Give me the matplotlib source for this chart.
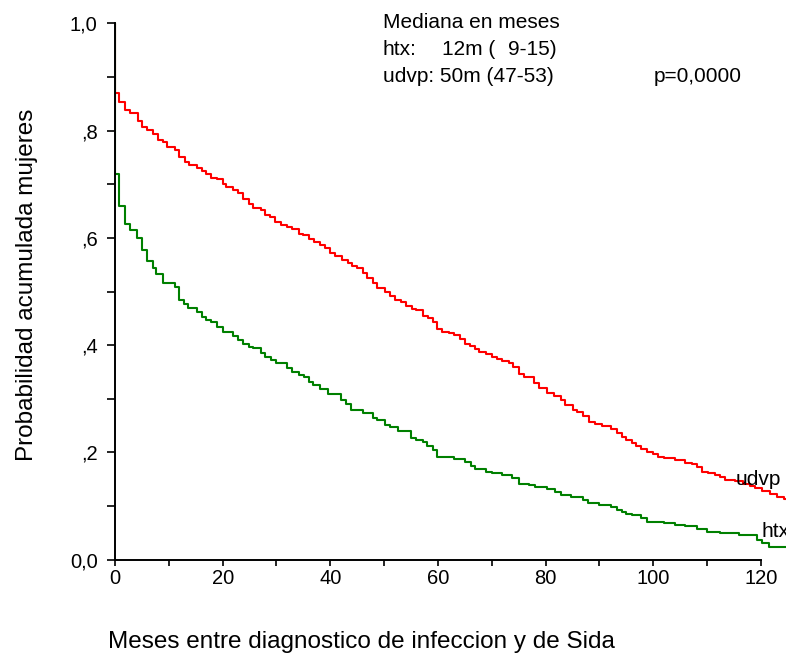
import numpy as np
import matplotlib
matplotlib.use('Agg')
import matplotlib.pyplot as plt
from matplotlib.ticker import MultipleLocator

plt.rcParams['font.family'] = ['Liberation Sans', 'DejaVu Sans']

# Kaplan-Meier curves (months, cumulative probability)
udvp_meses = [0.0, 0.0, 0.8, 1.9, 2.7, 4.2, 5.0, 6.0, 7.1, 7.9, 9.0,
              9.7, 11.1, 11.9, 13.0, 13.8, 15.3, 16.1, 16.9, 17.8, 19.0,
              20.0, 20.7, 21.9, 22.9, 23.7, 24.8, 25.6, 27.1, 27.9, 28.8,
              29.7, 30.8, 31.9, 32.8, 34.1, 34.9, 36.1, 37.0, 38.0, 39.0,
              39.9, 40.9, 42.1, 43.2, 44.0, 45.0, 46.1, 46.9, 48.0, 48.6,
              50.2, 51.0, 52.0, 53.1, 54.1, 55.1, 55.9, 57.3, 58.1, 59.1,
              59.9, 60.7, 62.0, 63.0, 64.1, 65.0, 66.0, 66.9, 67.7, 69.0,
              70.0, 70.9, 71.8, 73.1, 74.0, 75.1, 75.9, 77.8, 78.8, 80.3,
              81.5, 82.8, 83.6, 85.1, 85.9, 87.0, 88.1, 89.2, 90.4, 92.1,
              93.2, 94.1, 94.9, 96.0, 96.8, 97.8, 98.9, 99.9, 100.9, 101.9,
              104.0, 105.9, 107.1, 108.1, 109.0, 110.2, 111.5, 112.4, 113.3, 115.2,
              116.7, 118.0, 118.9, 120.1, 121.7, 122.9, 124.2]
udvp_prob = [1.0, 0.870, 0.854, 0.838, 0.832, 0.817, 0.806, 0.802, 0.794, 0.782, 0.779,
             0.769, 0.764, 0.750, 0.742, 0.735, 0.731, 0.725, 0.719, 0.712, 0.709,
             0.700, 0.694, 0.690, 0.683, 0.672, 0.664, 0.656, 0.652, 0.643, 0.639,
             0.630, 0.624, 0.620, 0.616, 0.607, 0.605, 0.597, 0.592, 0.587, 0.581,
             0.572, 0.567, 0.559, 0.553, 0.548, 0.544, 0.534, 0.526, 0.515, 0.507,
             0.500, 0.492, 0.484, 0.481, 0.473, 0.467, 0.465, 0.455, 0.451, 0.444,
             0.431, 0.425, 0.422, 0.418, 0.411, 0.403, 0.399, 0.393, 0.388, 0.383,
             0.378, 0.375, 0.371, 0.366, 0.359, 0.346, 0.340, 0.329, 0.321, 0.311,
             0.305, 0.298, 0.288, 0.280, 0.276, 0.268, 0.257, 0.253, 0.249, 0.243,
             0.237, 0.228, 0.223, 0.218, 0.212, 0.206, 0.201, 0.197, 0.191, 0.189,
             0.186, 0.181, 0.178, 0.172, 0.164, 0.161, 0.158, 0.154, 0.149, 0.146,
             0.142, 0.137, 0.133, 0.129, 0.122, 0.117, 0.113]

htx_meses = [0.0, 0.0, 0.8, 1.9, 2.7, 4.0, 5.0, 5.9, 7.0, 7.7, 8.9,
             11.1, 11.9, 12.8, 13.6, 15.3, 16.1, 16.9, 17.8, 19.0, 20.0,
             21.9, 22.9, 23.7, 24.8, 25.6, 27.1, 27.9, 28.9, 29.9, 31.9,
             32.8, 34.2, 35.1, 36.1, 36.8, 38.0, 39.6, 41.9, 43.0, 43.8,
             46.0, 48.0, 48.6, 50.2, 51.0, 52.6, 54.9, 55.9, 57.2, 58.0,
             59.0, 59.9, 62.9, 65.0, 66.1, 66.9, 69.0, 70.0, 71.8, 73.7,
             75.1, 77.0, 78.0, 80.2, 81.7, 82.8, 84.8, 86.9, 87.9, 90.0,
             92.1, 93.2, 94.1, 94.9, 96.0, 97.8, 98.9, 101.9, 104.0, 105.9,
             108.1, 109.9, 112.4, 116.0, 119.2, 120.1, 121.4]
htx_prob = [1.0, 0.719, 0.660, 0.626, 0.615, 0.600, 0.577, 0.556, 0.544, 0.533, 0.515,
            0.508, 0.485, 0.477, 0.470, 0.462, 0.453, 0.447, 0.444, 0.433, 0.425,
            0.417, 0.410, 0.402, 0.397, 0.394, 0.386, 0.378, 0.372, 0.367, 0.357,
            0.350, 0.344, 0.340, 0.332, 0.326, 0.318, 0.308, 0.298, 0.290, 0.280,
            0.273, 0.265, 0.260, 0.251, 0.248, 0.240, 0.226, 0.223, 0.220, 0.212,
            0.205, 0.191, 0.187, 0.183, 0.175, 0.169, 0.164, 0.161, 0.158, 0.152,
            0.142, 0.139, 0.136, 0.131, 0.127, 0.121, 0.117, 0.111, 0.106, 0.102,
            0.098, 0.093, 0.088, 0.085, 0.083, 0.077, 0.071, 0.068, 0.065, 0.062,
            0.057, 0.052, 0.049, 0.046, 0.037, 0.031, 0.024]

seguimiento_max = 125.0

ylabels = ['0,0', ',2', ',4', ',6', ',8', '1,0']

fig = plt.figure(figsize=(7.86, 6.53), dpi=100)
ax = fig.add_axes([115/786, 93.3/653, 671/786, 536.4/653])

def km_step(t, s):
    t = np.append(t, seguimiento_max)
    s = np.append(s, s[-1])
    return t, s

t, s = km_step(udvp_meses, udvp_prob)
ax.step(t, s, where='post', color='#ff0000', lw=1.5)
t, s = km_step(htx_meses, htx_prob)
ax.step(t, s, where='post', color='#008000', lw=1.5)

ax.set_xlim(0, 124.65)
ax.set_ylim(0, 1.0)

for side in ['top', 'right']:
    ax.spines[side].set_visible(False)
ax.spines['bottom'].set_bounds(0, 120)
ax.spines['left'].set_bounds(0, 1.0)
for side in ['left', 'bottom']:
    ax.spines[side].set_linewidth(1.4)

ax.xaxis.set_major_locator(MultipleLocator(20))
ax.xaxis.set_minor_locator(MultipleLocator(10))
ax.set_xticks(np.arange(0, 121, 20))
ax.set_yticks(np.arange(0, 1.01, 0.2))
ax.set_yticks(np.arange(0.1, 1.0, 0.2), minor=True)
ax.set_yticklabels(ylabels)

ax.tick_params(axis='x', which='both', direction='out', length=4.5, width=1.2,
               labelsize=14.5, pad=2)
ax.tick_params(axis='y', which='both', direction='out', length=6, width=1.2,
               labelsize=14.5, pad=6.5)

ax.set_xlabel('Meses entre diagnostico de infeccion y de Sida', fontsize=17.5,
              ha='left', va='baseline')
ax.xaxis.set_label_coords(-0.0104, -0.1646)
ax.set_ylabel('Probabilidad acumulada mujeres', fontsize=17.5,
              ha='center', va='baseline')
ax.yaxis.set_label_coords(-0.1222, 0.512)

# medianas
fs = 15
ax.text(383, 653 - 28.3, 'Mediana en meses', fontsize=fs, transform=None, va='baseline')
ax.text(383, 653 - 55, 'htx:', fontsize=fs, transform=None, va='baseline')
ax.text(442.3, 653 - 55, '12m (', fontsize=fs, transform=None, va='baseline')
ax.text(556.7, 653 - 55, '9-15)', fontsize=fs, transform=None, va='baseline', ha='right')
ax.text(383, 653 - 81.7, 'udvp: 50m (47-53)', fontsize=fs, transform=None, va='baseline')
ax.text(653.3, 653 - 81.7, 'p=0,0000', fontsize=fs, transform=None, va='baseline')

ax.text(115.3, 0.139, 'udvp', fontsize=fs, va='baseline', clip_on=False)
ax.text(120.1, 0.043, 'htx', fontsize=fs, va='baseline', clip_on=False)

plt.savefig('out.png', dpi=100)
